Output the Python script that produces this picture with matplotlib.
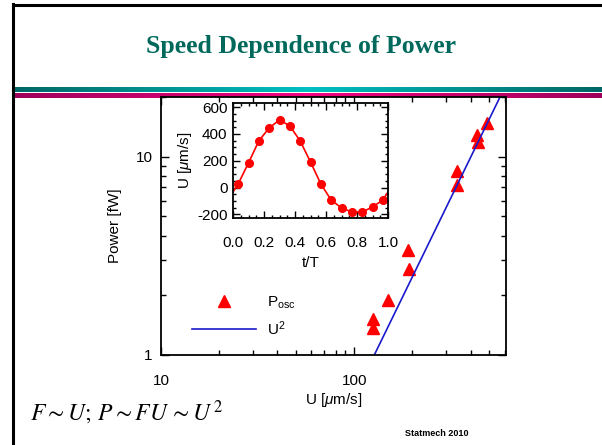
import numpy as np
import matplotlib
matplotlib.use('Agg')
import matplotlib.pyplot as plt
from matplotlib.lines import Line2D
from matplotlib.ticker import LogLocator, MultipleLocator, FixedLocator, NullFormatter, FixedFormatter

plt.rcParams['font.family'] = ['Liberation Sans', 'DejaVu Sans']
plt.rcParams['mathtext.fontset'] = 'custom'
plt.rcParams['mathtext.rm'] = 'Liberation Sans'
plt.rcParams['mathtext.it'] = 'Liberation Sans:italic'
plt.rcParams['mathtext.bf'] = 'Liberation Sans:bold'
plt.rcParams['axes.unicode_minus'] = False

#main panel: measured power vs speed
speed = [489, 434, 439, 342, 342, 190, 193, 150, 125, 125]       #um/s
power = [14.8, 12.8, 11.9, 8.5, 7.2, 3.4, 2.7, 1.9, 1.52, 1.37]  #fW

#U^2 reference line (P = 1 fW at U = 127 um/s)
fitSpeed = [100, 127, 700]
fitRef = 127.0

#inset: speed over one period
tPhase = [1/30, 3/30, 5/30, 7/30, 9/30, 11/30, 13/30, 15/30,
          17/30, 19/30, 21/30, 23/30, 25/30, 27/30, 29/30]
uPhase = [27, 184, 348, 445, 505, 460, 348, 191, 27, -93, -152, -182, -182, -145, -93]

red = '#ff0000'
blue = '#1a1acc'

fig = plt.figure(figsize=(6.02, 4.45), dpi=100)

#slide decorations
fig.add_artist(Line2D([13/602, 13/602], [0, 1 - 4/445], color='black', lw=2.2))
fig.add_artist(Line2D([13/602, 1], [1 - 5/445, 1 - 5/445], color='black', lw=2.2))

g = np.concatenate([np.linspace(0, 1, 128), np.linspace(1, 0, 128)])
teal = np.zeros((1, 256, 3))
teal[0, :, 0] = 0.0
teal[0, :, 1] = 0.40 + 0.35*g
teal[0, :, 2] = 0.40 + 0.35*g
axT = fig.add_axes([14/602, 1 - 92/445, 1 - 14/602, 5/445])
axT.imshow(teal, aspect='auto')
axT.axis('off')

mag = np.zeros((1, 256, 3))
mag[0, :, 0] = 0.62 + 0.33*g
mag[0, :, 1] = 0.0
mag[0, :, 2] = 0.36 + 0.14*g
axM = fig.add_axes([14/602, 1 - 98/445, 1 - 14/602, 5/445])
axM.imshow(mag, aspect='auto')
axM.axis('off')

fig.text(0.5, 1 - 47/445, 'Speed Dependence of Power', ha='center', va='center',
         family='Liberation Serif', fontweight='bold', fontsize=18.5, color='#00695c')

#main log-log axes
ax = fig.add_axes([161/602, 1 - 355/445, 345/602, 258/445])
ax.plot(speed, power, linestyle='none', marker='^', markersize=9, color=red, label=r'P$_{\rm osc}$')
fitPower = [(u/fitRef)**2 for u in fitSpeed]
ax.plot(fitSpeed, fitPower, color=blue, lw=1.2, label=r'U$^{\rm 2}$')
ax.set_xscale('log')
ax.set_yscale('log')
ax.set_xlim(10, 610)
ax.set_ylim(1, 20)
ax.xaxis.set_major_locator(FixedLocator([10, 100]))
ax.xaxis.set_major_formatter(FixedFormatter(['10', '100']))
ax.xaxis.set_minor_locator(LogLocator(base=10, subs=np.arange(2, 10)))
ax.xaxis.set_minor_formatter(NullFormatter())
ax.yaxis.set_major_locator(FixedLocator([1, 10]))
ax.yaxis.set_major_formatter(FixedFormatter(['1', '10']))
ax.yaxis.set_minor_locator(LogLocator(base=10, subs=np.arange(2, 10)))
ax.yaxis.set_minor_formatter(NullFormatter())
ax.tick_params(which='both', direction='in', top=True, right=True, width=1.0, labelsize=11)
ax.tick_params(which='major', length=6)
ax.tick_params(which='minor', length=3.5)
ax.tick_params(axis='x', which='major', pad=14)
ax.tick_params(axis='y', which='major', pad=6)
for s in ax.spines.values():
    s.set_linewidth(1.3)
ax.set_xlabel(r'U [$\mu$m/s]', fontsize=11, labelpad=2)
ax.set_ylabel('Power [fW]', fontsize=11, labelpad=10)

leg = ax.legend(loc='upper left', bbox_to_anchor=(0.09, 0.235), frameon=False, fontsize=11,
                handlelength=4.2, handletextpad=0.7, labelspacing=0.55, borderpad=0, borderaxespad=0)

#inset
axI = fig.add_axes([233/602, 1 - 218/445, 155/602, 115/445])
tLine = [tPhase[-1] - 1] + tPhase + [tPhase[0] + 1]
uLine = [uPhase[-1]] + uPhase + [uPhase[0]]
axI.plot(tLine, uLine, color=red, lw=1.2)
axI.plot(tPhase, uPhase, linestyle='none', marker='o', markersize=5.5, color=red)
axI.set_xlim(0, 1)
axI.set_ylim(-227, 631)
axI.xaxis.set_major_locator(MultipleLocator(0.2))
axI.xaxis.set_minor_locator(MultipleLocator(0.05))
axI.yaxis.set_major_locator(MultipleLocator(200))
axI.yaxis.set_minor_locator(MultipleLocator(50))
axI.xaxis.set_major_formatter(plt.FormatStrFormatter('%.1f'))
axI.tick_params(which='both', direction='in', top=True, right=True, width=1.0, labelsize=11)
axI.tick_params(which='major', length=5)
axI.tick_params(which='minor', length=2.5)
axI.tick_params(axis='x', which='major', pad=13)
axI.tick_params(axis='y', which='major', pad=4)
for s in axI.spines.values():
    s.set_linewidth(1.3)
axI.set_xlabel('t/T', fontsize=11, labelpad=4)
axI.set_ylabel(r'U [$\mu$m/s]', fontsize=11, labelpad=2)

#footer text
fig.text(30/602, 1 - 413/445, r'$F\sim U;\,P\sim FU\,\sim U^{\,2}$', ha='left', va='center',
         fontsize=17, math_fontfamily='stix')
fig.text(437/602, 1 - 433/445, 'Statmech 2010', ha='center', va='center',
         fontsize=6.5, fontweight='bold')

fig.savefig('out.png', dpi=100)
